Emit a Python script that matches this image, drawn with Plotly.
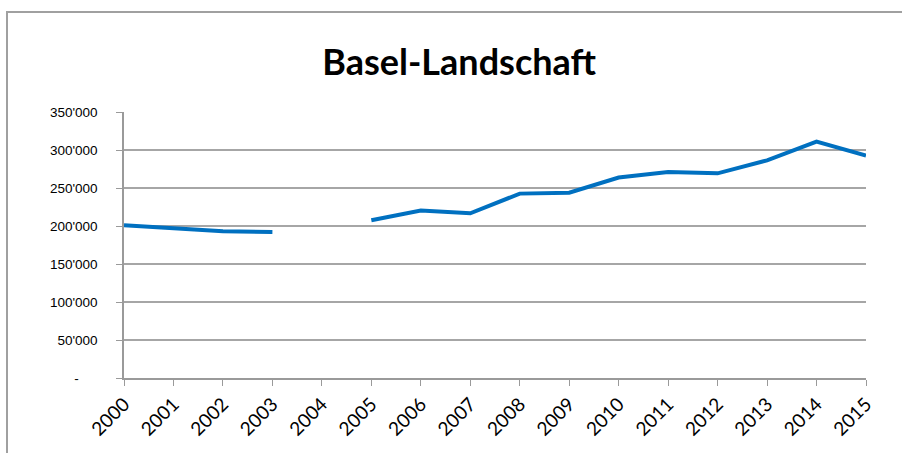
import plotly.graph_objects as go

years = list(range(2000, 2016))
values = [201000, 197000, 193000, 192100, None, 207500, 220300, 216700,
          242600, 243900, 263700, 271100, 269300, 286400, 311000, 292600]
y_tickvals = [0, 50000, 100000, 150000, 200000, 250000, 300000, 350000]
y_ticktext = ["-\u00a0\u00a0\u00a0\u00a0\u00a0", "50'000", "100'000", "150'000", "200'000",
              "250'000", "300'000", "350'000"]
x_ticktext = [str(y) for y in years]

fig = go.Figure()
fig.add_trace(go.Scatter(
    x=years, y=values, mode="lines", connectgaps=False,
    line=dict(color="#0070C0", width=4), showlegend=False,
))

fig.update_layout(
    width=902, height=453,
    margin=dict(l=124, r=36, t=112, b=75),
    paper_bgcolor="white", plot_bgcolor="white",
    title=dict(text="<b>Basel-Landschaft</b>", x=0.509, xanchor="center",
               y=0.863, yanchor="middle",
               font=dict(family="Lato", size=36, color="black")),
    xaxis=dict(range=[2000, 2015], tickvals=years, ticktext=x_ticktext,
               tickangle=-45, ticks="outside", ticklen=6, tickcolor="#9a9a9a",
               showline=True, linecolor="#9a9a9a", linewidth=1.5,
               showgrid=False, zeroline=False,
               tickfont=dict(family="Lato", size=19, color="black")),
    yaxis=dict(range=[0, 350000], tickvals=y_tickvals, ticktext=y_ticktext,
               ticks="outside", ticklen=6, tickcolor="#9a9a9a",
               showline=True, linecolor="#9a9a9a", linewidth=1.5,
               showgrid=True, gridcolor="#a6a6a6", gridwidth=1.5,
               zeroline=False, ticklabelstandoff=16,
               tickfont=dict(family="Liberation Sans", size=13.5, color="black")),
)

fig.add_shape(type="rect", xref="paper", yref="paper",
              x0=(7 - 124) / 742, x1=1.3, y0=-0.6, y1=(378 - 12) / 266,
              line=dict(color="#a0a0a0", width=2), fillcolor="rgba(0,0,0,0)",
              layer="below")

fig.write_html(
    "out.html",
    config={"displayModeBar": False},
    post_script="document.body.style.margin='0';document.body.style.overflow='hidden';",
)
